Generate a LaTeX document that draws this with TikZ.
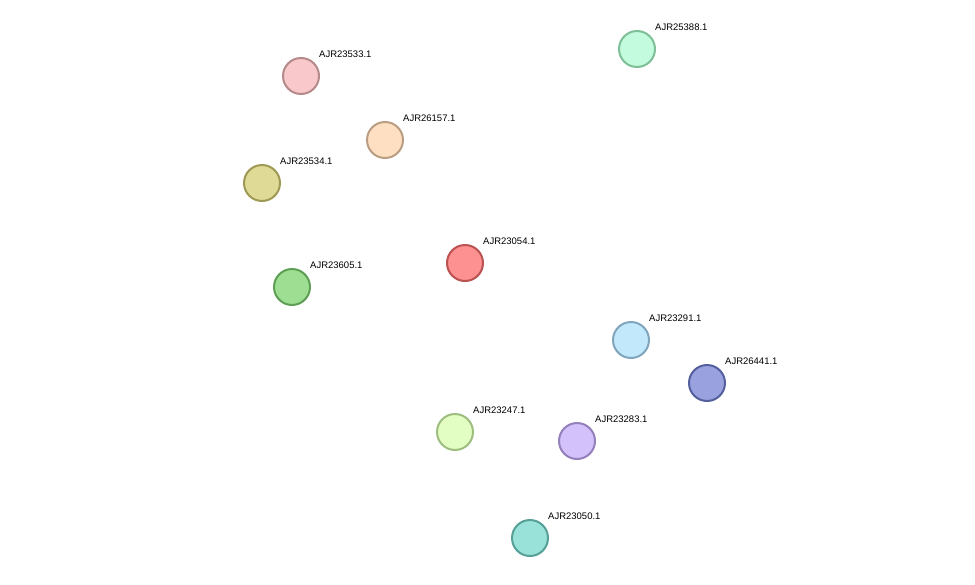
\documentclass[tikz,border=0pt]{standalone}
\usepackage{fontspec}
\setmainfont{Liberation Sans}
\usetikzlibrary{calc,backgrounds}
\definecolor{eg}{HTML}{33C633}
\definecolor{eb}{HTML}{3030F0}
\definecolor{em}{HTML}{D633D6}
\definecolor{ey}{HTML}{C4D22E}
\definecolor{ek}{HTML}{444444}
\definecolor{ec}{HTML}{33B5E5}
\tikzset{
  prot/.style={circle,minimum size=36pt,inner sep=0pt,line width=2pt},
  lab/.style={font=\fontsize{9.5}{11}\selectfont,anchor=west,inner sep=0pt},
}
\newcommand\medge[3]{%
  \foreach \c [count=\i] in {#3}{\xdef\nn{\i}}%
  \foreach \c [count=\i] in {#3}{%
    \pgfmathsetmacro\off{(\i-(\nn+1)/2)*2.1}%
    \draw[\c,line width=1.1pt] ($(#1)!\off pt!90:(#2)$) -- ($(#2)!\off pt!-90:(#1)$);
  }}
\newcommand\prot[5]{\definecolor{pf}{HTML}{#4}\definecolor{pd}{HTML}{#5}%
  \node[prot,fill=pf,draw=pd] (n#1) at (#2,#3) {};
  \node[lab] (l#1) at (#2+18,#3-22) {AJR#1.1};}
\begin{document}
\begin{tikzpicture}[x=1pt,y=-1pt]
\useasboundingbox[fill=white] (0,0) rectangle (975,584);
\prot{25388}{637}{49}{C2FBDD}{7FBF98}
\prot{23533}{301}{76}{F8C8CA}{B48A8B}
\prot{26157}{385}{140}{FEDFC1}{BA9E83}
\prot{23534}{262}{183}{DFDB96}{9E9A55}
\prot{23054}{465}{263}{FD9090}{BA5252}
\prot{23605}{292}{287}{9DDE92}{5E9E55}
\prot{23291}{631}{340}{C2E8FB}{80A6BD}
\prot{26441}{707}{383}{99A2DF}{54609E}
\prot{23247}{455}{432}{E2FEC2}{9EBE80}
\prot{23283}{577}{441}{D3C1FB}{9480BB}
\prot{23050}{530}{538}{99E2D9}{56A098}
\begin{scope}[on background layer]
\medge{n25388}{n23054}{ey,ek,eb,eg}
\medge{n23533}{n23534}{eg,eb}
\medge{n23533}{n26157}{eg,eb}
\medge{n23533}{n23054}{eg,eb}
\medge{n26157}{n23054}{eg,eb}
\medge{n26157}{n23605}{eg,eb}
\medge{n23534}{n23054}{eg,eb}
\medge{n23534}{n23605}{eb,eg}
\medge{n23054}{n23605}{eg,eb,eb,ek,em,ey}
\medge{n23054}{n23291}{ey,ec,em,ek,ek,eb,eg}
\medge{n23054}{n26441}{ey,em,ek,eb,eg}
\medge{n23291}{n26441}{ey,em,ek,eb,eg}
\medge{n23291}{n23283}{eg,eb,ek,em,ec,ey}
\medge{n26441}{n23283}{eg,ek,em,ey}
\medge{n23054}{n23283}{eb}
\medge{n23054}{n23247}{eb,em}
\medge{n23054}{n23050}{em,eb}
\medge{n23247}{n23283}{eb,em}
\medge{n23283}{n23050}{eb,em}
\end{scope}
\end{tikzpicture}
\end{document}
